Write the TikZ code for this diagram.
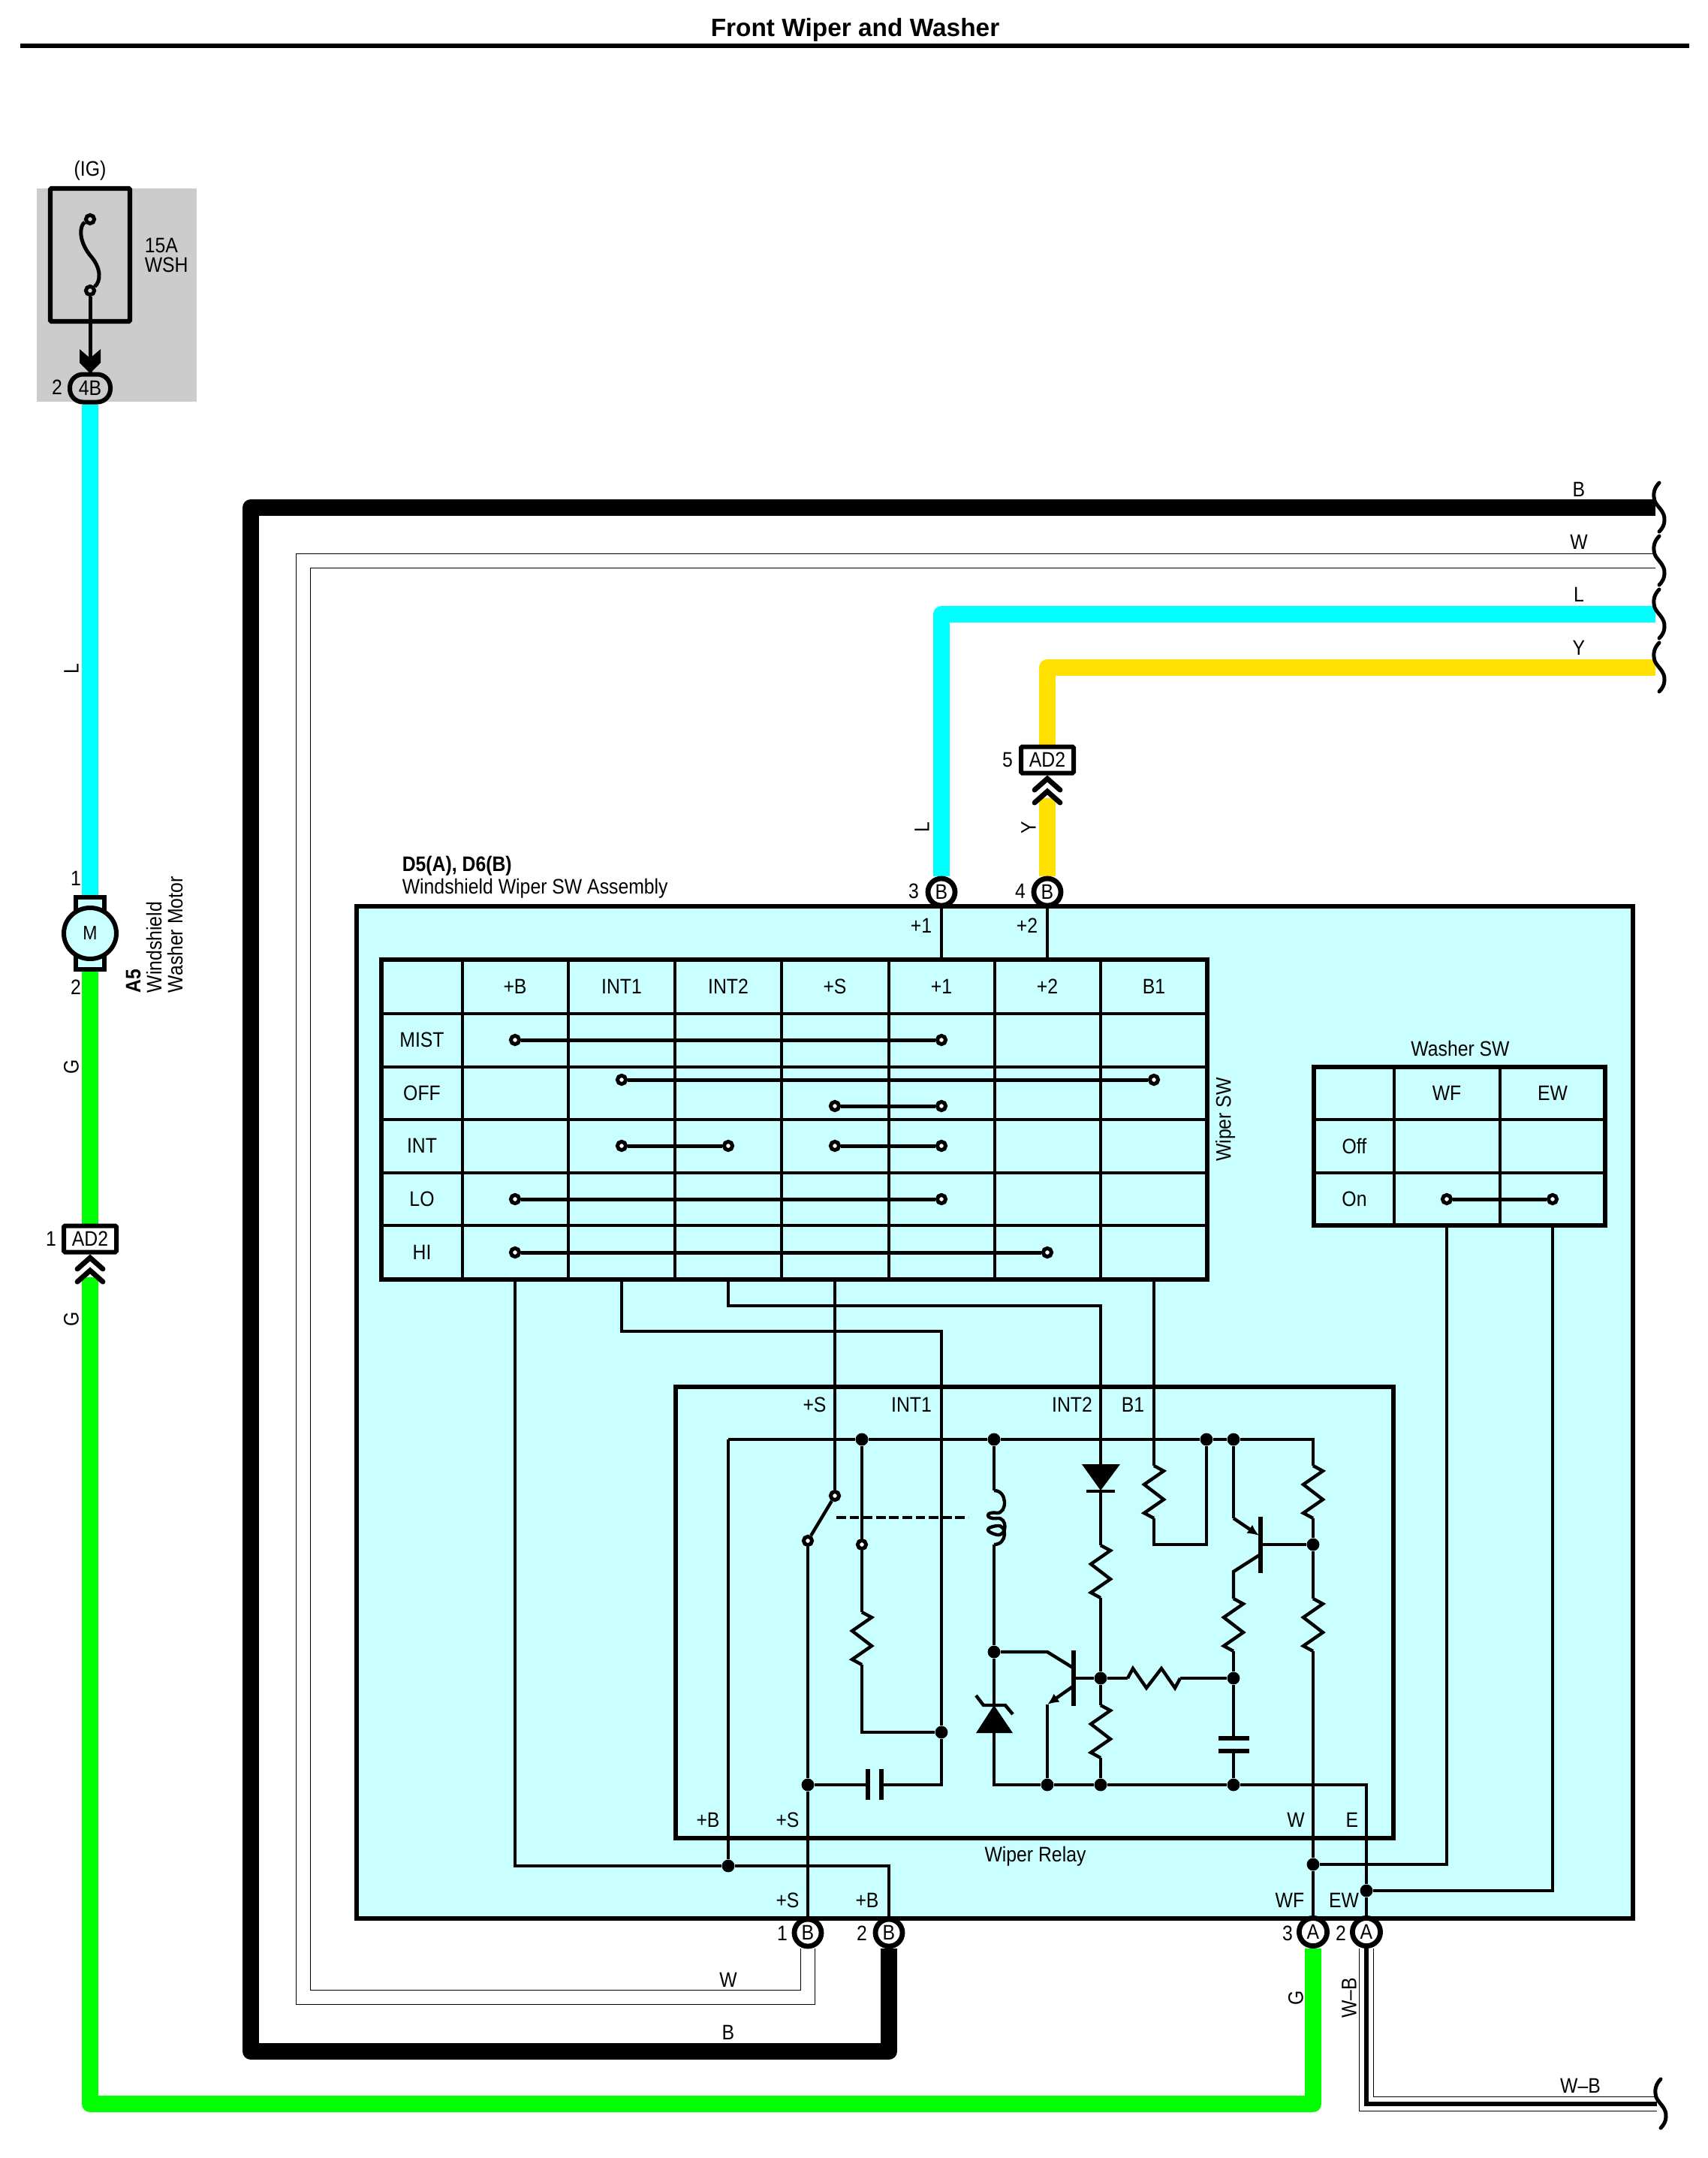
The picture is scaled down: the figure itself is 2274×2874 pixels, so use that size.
\documentclass[tikz,border=0pt]{standalone}
\usepackage{fontspec}
\setmainfont[FakeStretch=0.885]{Liberation Sans}
\newfontfamily\titlefont{Liberation Sans}
\usetikzlibrary{arrows.meta,backgrounds,shapes.geometric}
\definecolor{wcyan}{HTML}{00FFFF}
\definecolor{wgreen}{HTML}{00FF00}
\definecolor{wyellow}{HTML}{FFE000}
\definecolor{boxcyan}{HTML}{C9FFFF}
\definecolor{fusegray}{HTML}{CCCCCC}
\tikzset{
    resv/.pic={\coordinate (-in) at (0,0); \coordinate (-out) at (0,70);
        \draw[sig] (0,0) -- (13,7) -- (-13,25) -- (13,45) -- (-13,63) -- (0,70);},
    chev/.pic={\coordinate (-out) at (0,26);
        \draw[line width=1.7pt, line cap=round] (-17,15) -- (0,0) -- (17,15) (-17,32) -- (0,17) -- (17,32);},
    brk/.pic={\coordinate (-in) at (-5,33);
        \draw[line width=1.25pt, line cap=round] (0,0) .. controls (-6,6) and (-9,14) .. (-6,24) .. controls (-3,32) and (8,38) .. (7,50) .. controls (7,56) and (4,61) .. (0,65);}
}
\begin{document}
\begin{tikzpicture}[x=0.25pt, y=-0.25pt,
    txt/.style={font=\fontsize{7}{7}\selectfont, inner sep=0pt},
    sig/.style={line width=1.1pt, line join=miter},
    cell/.style={line width=1.05pt},
    frame/.style={draw, line width=1.6pt},
    wire/.style={line width=5.5pt, line join=round},
    hollow/.style={draw=black, line width=0.3pt, double=white, double distance=4.6pt, line join=miter},
    pin/.style={circle, draw, fill=white, line width=1.7pt, minimum size=9pt, inner sep=0pt, font=\fontsize{7}{7}\selectfont},
    tag/.style={rectangle, draw, fill=white, line width=1.5pt, minimum width=17.5pt, minimum height=8.75pt, inner sep=0pt, rounded corners=0.4pt, font=\fontsize{7}{7}\selectfont},
    dot/.style={circle, fill=black, minimum size=4.2pt, inner sep=0pt},
    contact/.style={circle, draw, fill=white, line width=1.25pt, minimum size=2.8pt, inner sep=0pt},
]
\path[use as bounding box] (0,0) rectangle (2274,2874);

% Title
\node[txt, font=\fontsize{8.35}{9}\selectfont\titlefont\bfseries] (title) at (1139,40) {Front Wiper and Washer};
\draw[line width=1.7pt] (27,61) -- (2250,61);

% Fuse
\node[frame, rectangle, minimum width=26.5pt, minimum height=44.25pt, inner sep=0pt, rounded corners=0.4pt] (fuse) at (120,339.5) {};
\node[contact, fill=fusegray] (fuse-a) at (120,292) {};
\node[contact, fill=fusegray] (fuse-b) at (120,387) {};
\node[rectangle, draw, fill=fusegray, line width=1.5pt, minimum width=13.5pt, minimum height=9.25pt, rounded corners=4.4pt, inner sep=0pt, font=\fontsize{7}{7}\selectfont] (pin-4b) at (120,517) {4B};
\fill (106,465) -- (120,477) -- (134,465) -- (134,483) -- (120,497) -- (106,483) -- cycle;
\node[txt] (lb-ig) at (120,227) {(IG)};
\node[txt, align=left, anchor=west, font=\fontsize{7}{6.3}\selectfont] (lb-fuse) at (192,340) {15A\\WSH};
\node[txt] (lb-2a) at (76,516) {2};
\draw[line width=1.25pt] (fuse-a) .. controls (106,300) and (104,320) .. (120,340) .. controls (136,358) and (134,375) .. (fuse-b);

% Motor
\node[rectangle, draw, fill=boxcyan, line width=1.5pt, minimum width=9.5pt, minimum height=24pt, inner sep=0pt] (motor-tab) at (120,1243) {};
\node[ellipse, draw, fill=boxcyan, line width=1.5pt, minimum width=17.5pt, minimum height=17pt, inner sep=0pt, font=\fontsize{6.5}{7}\selectfont] (motor) at (120,1243) {M};
\node[txt] (lb-m1) at (101,1170) {1};
\node[txt] (lb-m2) at (101,1315) {2};
\node[txt, rotate=90, align=left, anchor=north west] (lb-motor) at (167,1323) {\textbf{A5}\\Windshield\\Washer Motor};
\node[tag] (tag-g) at (120,1650) {AD2};
\pic (chev-g) at (120,1675) {chev};
\node[txt] (lb-g1) at (68,1650) {1};
\node[txt, rotate=90] (lb-l) at (95,891) {L};
\node[txt, rotate=90] (lb-g2) at (95,1421) {G};
\node[txt, rotate=90] (lb-g3) at (95,1757) {G};

% Wire ends on the right
\pic (brk-b) at (2210,643) {brk};
\pic (brk-w) at (2210,714) {brk};
\pic (brk-l) at (2210,785) {brk};
\pic (brk-y) at (2210,856) {brk};
\pic (brk-wb) at (2212,2769) {brk};
\node[txt] (lb-b) at (2103,652) {B};
\node[txt] (lb-w) at (2103,722) {W};
\node[txt] (lb-ll) at (2103,792) {L};
\node[txt] (lb-y) at (2103,863) {Y};
\node[txt] (lb-wb) at (2105,2778) {W--B};

% Upper pins
\node[pin] (pin-b3) at (1254,1188) {B};
\node[pin] (pin-b4) at (1395,1188) {B};
\node[tag] (tag-y) at (1395,1012) {AD2};
\pic (chev-y) at (1395,1037) {chev};
\node[txt] (lb-5) at (1342,1012) {5};
\node[txt, rotate=90] (lb-l2) at (1228,1102) {L};
\node[txt, rotate=90] (lb-y2) at (1370,1102) {Y};
\node[txt] (lb-3) at (1217,1187) {3};
\node[txt] (lb-4) at (1359,1187) {4};

% Assembly labels
\node[txt, align=left, anchor=west, font=\fontsize{7}{7.5}\selectfont] (lb-asm) at (535,1168) {\textbf{D5(A), D6(B)}\\Windshield Wiper SW Assembly};
\node[txt] (lb-p1) at (1227,1233) {+1};
\node[txt] (lb-p2) at (1368,1233) {+2};

% Wiper SW table
\draw[frame] (508,1278) rectangle (1608,1704);
\foreach \x in {616,757,899,1041,1184,1325,1466} \draw[cell] (\x,1278) -- (\x,1704);
\foreach \y in {1350,1421,1491,1562,1632} \draw[cell] (508,\y) -- (1608,\y);
\foreach \name/\x in {+B/686,INT1/828,INT2/970,+S/1112,+1/1254,+2/1395,B1/1537}
    \node[txt] (col\name) at (\x,1314) {\name};
\foreach \name/\y in {MIST/1385,OFF/1456,INT/1526,LO/1597,HI/1668}
    \node[txt] (row\name) at (562,\y) {\name};
\node[txt, rotate=90] (lb-wsw) at (1632,1491) {Wiper SW};
\node[contact] (mist-a) at (686,1385) {};
\node[contact] (mist-b) at (1254,1385) {};
\node[contact] (off-a) at (828,1438) {};
\node[contact] (off-b) at (1537,1438) {};
\node[contact] (off-c) at (1112,1473) {};
\node[contact] (off-d) at (1254,1473) {};
\node[contact] (int-a) at (828,1526) {};
\node[contact] (int-b) at (970,1526) {};
\node[contact] (int-c) at (1112,1526) {};
\node[contact] (int-d) at (1254,1526) {};
\node[contact] (lo-a) at (686,1597) {};
\node[contact] (lo-b) at (1254,1597) {};
\node[contact] (hi-a) at (686,1668) {};
\node[contact] (hi-b) at (1395,1668) {};

% Washer SW table
\draw[frame] (1750,1421) rectangle (2138,1632);
\foreach \x in {1857,1998} \draw[cell] (\x,1421) -- (\x,1632);
\foreach \y in {1491,1562} \draw[cell] (1750,\y) -- (2138,\y);
\node[txt] (lb-wash) at (1945,1396) {Washer SW};
\node[txt] (colWF) at (1927,1456) {WF};
\node[txt] (colEW) at (2068,1456) {EW};
\node[txt] (rowOff) at (1804,1526) {Off};
\node[txt] (rowOn) at (1804,1597) {On};
\node[contact] (wash-a) at (1927,1597) {};
\node[contact] (wash-b) at (2068,1597) {};

% Wiper Relay
\draw[frame] (900,1847) rectangle (1856,2448);
\node[txt] (lb-rs) at (1085,1871) {+S};
\node[txt] (lb-ri1) at (1214,1871) {INT1};
\node[txt] (lb-ri2) at (1428,1871) {INT2};
\node[txt] (lb-rb1) at (1509,1871) {B1};
\node[txt] (lb-rb) at (943,2424) {+B};
\node[txt] (lb-rs2) at (1049,2424) {+S};
\node[txt] (lb-rw) at (1726,2424) {W};
\node[txt] (lb-re) at (1801,2424) {E};
\node[txt] (lb-relay) at (1379,2472) {Wiper Relay};

% Junctions
\node[dot] (j-c) at (1148,1917) {};
\node[dot] (j-d) at (1324,1917) {};
\node[dot] (j-e) at (1607,1917) {};
\node[dot] (j-f) at (1643,1917) {};
\node[dot] (j-g) at (1324,2200) {};
\node[dot] (j-h) at (1254,2307) {};
\node[dot] (j-i) at (1076,2377) {};
\node[dot] (j-k) at (1395,2377) {};
\node[dot] (j-m) at (1466,2377) {};
\node[dot] (j-n) at (1643,2377) {};
\node[dot] (j-p) at (1466,2235) {};
\node[dot] (j-q) at (1643,2235) {};
\node[dot] (j-r) at (1749,2057) {};
\node[dot] (j-s) at (970,2485) {};
\node[dot] (j-t) at (1749,2483) {};
\node[dot] (j-u) at (1820,2518) {};

% Relay contacts
\node[contact] (sw-top) at (1112,1992) {};
\node[contact] (sw-bot) at (1076,2052) {};
\node[contact] (sw-nc) at (1148,2057) {};

% Resistors
\pic (r-b1) at (1537,1952) {resv};
\pic (r-ce) at (1749,1952) {resv};
\pic (r-cb) at (1749,2129) {resv};
\pic (r-em) at (1643,2129) {resv};
\pic (r-in) at (1466,2058) {resv};
\pic (r-lo) at (1466,2271) {resv};
\pic (r-nc) at (1148,2147) {resv};
\pic[rotate=90] (r-h) at (1502,2235) {resv};

% Diode
\fill (1441,1950) -- (1492,1950) -- (1466,1985) -- cycle;
\draw[line width=1.2pt] (1447,1986) -- (1485,1986);
\coordinate (d-in) at (1466,1950);
\coordinate (d-out) at (1466,1986);

% Zener
\fill (1300,2308) -- (1349,2308) -- (1324,2271) -- cycle;
\draw[sig] (1300,2258) -- (1310,2271) -- (1339,2271) -- (1349,2283);
\coordinate (z-in) at (1324,2271);
\coordinate (z-out) at (1324,2308);

% Capacitors
\draw[line width=1.3pt] (1156,2356) -- (1156,2397);
\draw[line width=1.3pt] (1174,2356) -- (1174,2397);
\coordinate (c1-l) at (1156,2377);
\coordinate (c1-r) at (1174,2377);
\draw[line width=1.3pt] (1623,2315) -- (1664,2315);
\draw[line width=1.3pt] (1623,2332) -- (1664,2332);
\coordinate (c2-t) at (1643,2315);
\coordinate (c2-b) at (1643,2332);

% Coil
\coordinate (coil-in) at (1324,1985);
\coordinate (coil-out) at (1324,2057);
\draw[sig] (coil-in) .. controls (1342,1985) and (1342,2015) .. (1328,2015) .. controls (1312,2012) and (1312,2024) .. (1328,2022) .. controls (1342,2020) and (1342,2046) .. (1328,2044) .. controls (1312,2040) and (1312,2034) .. (1328,2032) .. controls (1342,2030) and (1342,2057) .. (coil-out);

% Transistors
\draw[line width=1.3pt] (1430,2198) -- (1430,2272);
\draw[line width=1.3pt] (1679,2020) -- (1679,2095);
\coordinate (t1-base) at (1430,2235);
\coordinate (t1-c) at (1395,2200);
\coordinate (t1-cb) at (1429,2221);
\coordinate (t1-e) at (1395,2270);
\coordinate (t1-eb) at (1429,2246);
\coordinate (t2-base) at (1679,2057);
\coordinate (t2-e) at (1643,2022);
\coordinate (t2-eb) at (1677,2045);
\coordinate (t2-c) at (1643,2093);
\coordinate (t2-cb) at (1679,2070);

% Lower pins
\node[pin] (pin-b1) at (1076,2574) {B};
\node[pin] (pin-b2) at (1184,2574) {B};
\node[pin, minimum size=9.3pt] (pin-a3) at (1749,2573) {A};
\node[pin, minimum size=9.3pt] (pin-a2) at (1820,2573) {A};
\node[txt] (lb-s3) at (1049,2531) {+S};
\node[txt] (lb-b3) at (1155,2531) {+B};
\node[txt] (lb-wf) at (1718,2531) {WF};
\node[txt] (lb-ew) at (1790,2531) {EW};
\node[txt] (lb-n1) at (1042,2575) {1};
\node[txt] (lb-n2) at (1148,2575) {2};
\node[txt] (lb-n3) at (1715,2575) {3};
\node[txt] (lb-n4) at (1786,2575) {2};
\node[txt] (lb-w2) at (970,2637) {W};
\node[txt] (lb-b2) at (970,2707) {B};
\node[txt, rotate=90] (lb-g4) at (1726,2661) {G};
\node[txt, rotate=90] (lb-wb2) at (1797,2661) {W--B};

% Turning points
\coordinate (g-turn) at (120,2802);
\coordinate (g-end) at (1749,2802);
\coordinate (b-a) at (1184,2732);
\coordinate (b-b) at (334,2732);
\coordinate (b-c) at (334,676);
\coordinate (w-a) at (1076,2660);
\coordinate (w-b) at (404,2660);
\coordinate (w-c) at (404,747);
\coordinate (l-turn) at (1254,818);
\coordinate (y-turn) at (1395,889);
\coordinate (wb-turn) at (1820,2802);
\coordinate (tb-pb) at (686,1704);
\coordinate (tb-i1) at (828,1704);
\coordinate (tb-i2) at (970,1704);
\coordinate (tb-s) at (1112,1704);
\coordinate (tb-b1) at (1537,1704);
\coordinate (tb-p1) at (1254,1278);
\coordinate (tb-p2) at (1395,1278);
\coordinate (tb-wf) at (1927,1632);
\coordinate (tb-ew) at (2068,1632);
\coordinate (pb-turn) at (686,2485);
\coordinate (pb-end) at (1184,2485);
\coordinate (i1-a) at (828,1773);
\coordinate (i1-b) at (1254,1773);
\coordinate (i1-c) at (1254,2377);
\coordinate (i2-a) at (970,1739);
\coordinate (i2-b) at (1466,1739);
\coordinate (b1-a) at (1537,2057);
\coordinate (b1-b) at (1607,2057);
\coordinate (top-a) at (970,1917);
\coordinate (top-end) at (1749,1917);
\coordinate (rail-end) at (1820,2377);
\coordinate (nc-a) at (1148,2307);
\coordinate (z-turn) at (1324,2377);

% Connections
\begin{scope}[on background layer]
\node[rectangle, fill=fusegray, minimum width=53.25pt, minimum height=71pt, inner sep=0pt] (fuse-bg) at (155.5,393) {};
\node[frame, rectangle, fill=boxcyan, minimum width=425pt, minimum height=337pt, inner sep=0pt] (asm) at (1325,1881) {};
\draw[wire, draw=wcyan] (pin-4b) -- (motor-tab);
\draw[wire, draw=wgreen] (motor-tab) -- (tag-g);
\draw[wire, draw=wgreen] (chev-g-out) -- (g-turn) -- (g-end) -- (pin-a3);
\draw[wire] (pin-b2) -- (b-a) -- (b-b) -- (b-c) -- (brk-b-in);
\draw[wire, draw=wcyan] (pin-b3) -- (l-turn) -- (brk-l-in);
\draw[wire, draw=wyellow] (tag-y) -- (y-turn) -- (brk-y-in);
\draw[wire, draw=wyellow] (pin-b4) -- (chev-y-out);
\draw[hollow] (pin-b1) -- (w-a) -- (w-b) -- (w-c) -- (brk-w-in);
\draw[hollow] (pin-a2) -- (wb-turn) -- (brk-wb-in);
\draw[line width=1.3pt] (pin-a2) -- (wb-turn) -- (brk-wb-in);
\draw[line width=1.25pt] (fuse-b) -- (pin-4b);

% contacts in the tables
\foreach \a/\b in {mist-a/mist-b,off-a/off-b,off-c/off-d,int-a/int-b,int-c/int-d,lo-a/lo-b,hi-a/hi-b,wash-a/wash-b}
    \draw[line width=1.25pt] (\a) -- (\b);
% from the tables
\draw[sig] (pin-b3) -- (tb-p1);
\draw[sig] (pin-b4) -- (tb-p2);
\draw[sig] (tb-pb) -- (pb-turn) -- (j-s) -- (pb-end) -- (pin-b2);
\draw[sig] (j-s) -- (top-a);
\draw[sig] (tb-i1) -- (i1-a) -- (i1-b) -- (j-h) -- (i1-c) -- (c1-r);
\draw[sig] (tb-i2) -- (i2-a) -- (i2-b) -- (d-in);
\draw[sig] (tb-s) -- (sw-top);
\draw[sig] (tb-b1) -- (r-b1-in);
\draw[sig] (r-b1-out) -- (b1-a) -- (b1-b) -- (j-e);
\draw[sig] (tb-wf) |- (j-t);
\draw[sig] (tb-ew) |- (j-u);
% relay rails
\draw[sig] (top-a) -- (j-c) -- (j-d) -- (j-e) -- (j-f) -- (top-end) -- (r-ce-in);
\draw[sig] (r-ce-out) -- (j-r) -- (r-cb-in);
\draw[sig] (r-cb-out) -- (j-t) -- (pin-a3);
\draw[sig] (z-out) -- (z-turn) -- (j-k) -- (j-m) -- (j-n) -- (rail-end) -- (j-u) -- (pin-a2);
% switch
\draw[sig] (sw-top) -- (sw-bot);
\draw[sig] (sw-bot) -- (j-i) -- (pin-b1);
\draw[sig] (j-c) -- (sw-nc) -- (r-nc-in);
\draw[sig] (r-nc-out) -- (nc-a) -- (j-h);
\draw[sig, dash pattern=on 3.2pt off 1.2pt] (1114,2021) -- (1290,2021);
\draw[sig] (j-i) -- (c1-l);
% coil and first transistor
\draw[sig] (j-d) -- (coil-in);
\draw[sig] (coil-out) -- (j-g) -- (z-in);
\draw[sig] (j-g) -- (t1-c) -- (t1-cb);
\draw[sig] (t1-base) -- (j-p) -- (r-h-in);
\draw[sig] (r-h-out) -- (j-q);
\draw[sig, -{Latex[length=3.8pt,width=3.4pt]}] (t1-eb) -- (t1-e);
\draw[sig] (t1-e) -- (j-k);
% diode branch
\draw[sig] (d-out) -- (r-in-in);
\draw[sig] (r-in-out) -- (j-p) -- (r-lo-in);
\draw[sig] (r-lo-out) -- (j-m);
% second transistor
\draw[sig] (j-f) -- (t2-e);
\draw[sig, -{Latex[length=3.8pt,width=3.4pt]}] (t2-e) -- (t2-eb);
\draw[sig] (t2-base) -- (j-r);
\draw[sig] (t2-cb) -- (t2-c) -- (r-em-in);
\draw[sig] (r-em-out) -- (j-q) -- (c2-t);
\draw[sig] (c2-b) -- (j-n);
\end{scope}
\end{tikzpicture}
\end{document}
